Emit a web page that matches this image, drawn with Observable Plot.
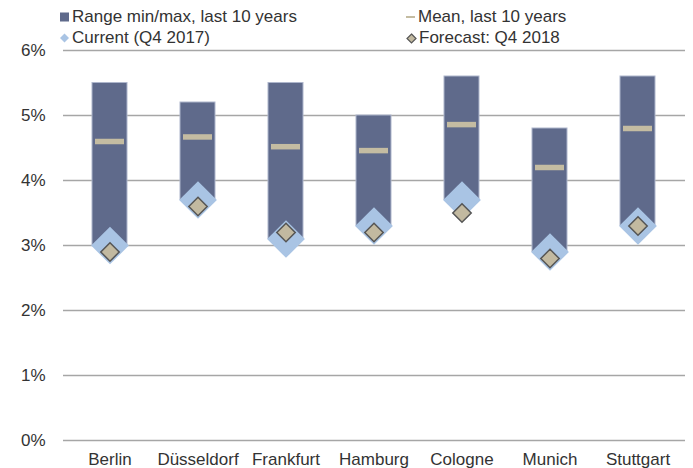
<!DOCTYPE html>
<html>
<head>
<meta charset="utf-8">
<script src="https://cdn.jsdelivr.net/npm/d3@7"></script>
<script src="https://cdn.jsdelivr.net/npm/@observablehq/plot@0.6"></script>
<style>
  body { margin: 0; background: #fff; font-family: "Liberation Sans", Arial, sans-serif; }
  #wrap { position: relative; width: 693px; height: 468px; }
  .leg { position: absolute; z-index: 2; font-size: 17px; color: #333; white-space: nowrap; display: flex; align-items: center; height: 20px; }
  .leg svg { margin-right: 2px; }
  #chart { position: absolute; left: 0; top: 40px; z-index: 1; }
</style>
</head>
<body>
<div id="wrap">
  <div class="leg" style="left:60px; top:7px;"><svg width="10" height="10"><rect x="0" y="0.5" width="9" height="9" fill="#5f6a8b"/></svg>Range min/max, last 10 years</div>
  <div class="leg" style="left:406px; top:7px;"><svg width="10" height="10"><rect x="0" y="4" width="9" height="2" fill="#c4bca2"/></svg>Mean, last 10 years</div>
  <div class="leg" style="left:60px; top:28px;"><svg width="10" height="10"><path d="M4.5,0.5L9,5L4.5,9.5L0,5Z" fill="#a9c4e4"/></svg>Current (Q4 2017)</div>
  <div class="leg" style="left:406px; top:28px;"><svg width="11" height="11"><path d="M5.5,1L10,5.5L5.5,10L1,5.5Z" fill="#c2b9a0" stroke="#555" stroke-width="1.2"/></svg>Forecast: Q4 2018</div>
  <div id="chart"></div>
</div>
<script>
const cities   = ["Berlin", "Düsseldorf", "Frankfurt", "Hamburg", "Cologne", "Munich", "Stuttgart"];
const minVals  = [3.0, 3.7, 3.1, 3.3, 3.7, 2.9, 3.3];
const maxVals  = [5.5, 5.2, 5.5, 5.0, 5.6, 4.8, 5.6];
const meanVals = [4.6, 4.67, 4.52, 4.46, 4.86, 4.2, 4.8];
const current  = [3.0, 3.7, 3.1, 3.3, 3.7, 2.9, 3.3];
const forecast = [2.9, 3.6, 3.2, 3.2, 3.5, 2.8, 3.3];
const yTicks   = [0, 1, 2, 3, 4, 5, 6];

const data = cities.map((c, i) => ({
  city: c, min: minVals[i], max: maxVals[i], mean: meanVals[i], current: current[i], forecast: forecast[i]
}));

const plot = Plot.plot({
  width: 693,
  height: 428,
  marginTop: 10,
  marginBottom: 28,
  marginLeft: 63,
  marginRight: 8,
  style: { fontFamily: "Liberation Sans, Arial, sans-serif", fontSize: "17px", color: "#333", background: "transparent" },
  x: { domain: cities, paddingInner: 0.6, paddingOuter: 0.3, label: null, tickSize: 0, tickPadding: 12 },
  y: { domain: [0, 6], ticks: yTicks, tickFormat: d => d + "%", label: null, tickSize: 0, tickPadding: 18 },
  marks: [
    Plot.ruleY(yTicks, { stroke: "#a6a6a6", strokeWidth: 1.5 }),
    Plot.barY(data, { x: "city", y1: "min", y2: "max", fill: "#5f6a8b", stroke: "#aeb6cc", strokeWidth: 1 }),
    Plot.tickY(data, { x: "city", y: "mean", stroke: "#c4bca2", strokeWidth: 5.5, insetLeft: 3, insetRight: 3 }),
    Plot.dot(data, { x: "city", y: "current", symbol: "diamond2", r: 17, fill: "#a9c4e4", stroke: "none" }),
    Plot.dot(data, { x: "city", y: "forecast", symbol: "diamond2", r: 8.3, fill: "#c2b9a0", stroke: "#555", strokeWidth: 1.5 })
  ]
});
document.getElementById("chart").appendChild(plot);
</script>
</body>
</html>
